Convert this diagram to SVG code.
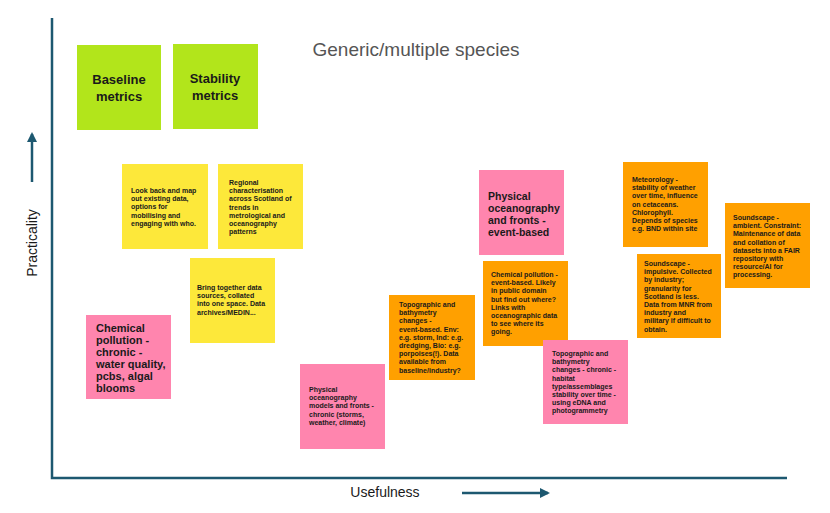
<svg xmlns="http://www.w3.org/2000/svg" width="830" height="513" viewBox="0 0 830 513">
<defs>
<style>
text{font-family:"Liberation Sans",Arial,sans-serif;fill:#1a1a1a}
.g{fill:#b2e51b}.y{fill:#fde83a}.p{fill:#ff85ae}.o{fill:#ffa000}
.s{font-size:7px;font-weight:bold}
.b{font-size:11px;font-weight:bold}
.h{font-size:13px;font-weight:bold}
.ax{stroke:#1d5870;stroke-width:2.5;fill:none}
</style>
<marker id="ah" viewBox="0 0 10 10" refX="8" refY="5" markerWidth="4" markerHeight="4" orient="auto"><path d="M0,0L10,5L0,10z" fill="#1d5870"/></marker>
</defs>
<rect width="830" height="513" fill="#fff"/>
<g id="axes">
<path class="ax" d="M52,18V478H787"/>
<path class="ax" d="M32,182V134" marker-end="url(#ah)"/>
<path class="ax" d="M462,493H548" marker-end="url(#ah)"/>
<text x="37" y="243" transform="rotate(-90 37 243)" text-anchor="middle" font-size="14">Practicality</text>
<text x="385" y="497" text-anchor="middle" font-size="14">Usefulness</text>
<text x="416" y="56" text-anchor="middle" font-size="19" style="fill:#555">Generic/multiple species</text>
</g>
<g id="baseline"><rect class="g" x="77" y="45" width="84" height="85"/><text class="h" x="119" y="84" text-anchor="middle">Baseline</text><text class="h" x="119" y="101" text-anchor="middle">metrics</text></g>
<g id="stability"><rect class="g" x="173" y="44" width="85" height="85"/><text class="h" x="215" y="83" text-anchor="middle">Stability</text><text class="h" x="215" y="100" text-anchor="middle">metrics</text></g>
<g id="lookback"><rect class="y" x="122" y="164" width="86" height="85"/><text class="s" x="131" y="193"><tspan x="131">Look back and map</tspan><tspan x="131" dy="8.2">out existing data,</tspan><tspan x="131" dy="8.2">options for</tspan><tspan x="131" dy="8.2">mobilising and</tspan><tspan x="131" dy="8.2">engaging with who.</tspan></text></g>
<g id="regional"><rect class="y" x="218" y="164" width="85" height="85"/><text class="s" x="229" y="185"><tspan x="229">Regional</tspan><tspan x="229" dy="8.2">characterisation</tspan><tspan x="229" dy="8.2">across Scotland of</tspan><tspan x="229" dy="8.2">trends in</tspan><tspan x="229" dy="8.2">metrological and</tspan><tspan x="229" dy="8.2">oceanography</tspan><tspan x="229" dy="8.2">patterns</tspan></text></g>
<g id="bring"><rect class="y" x="190" y="258" width="85" height="85"/><text class="s" x="197" y="290"><tspan x="197">Bring together data</tspan><tspan x="197" dy="8.2">sources, collated</tspan><tspan x="197" dy="8.2">into one space. Data</tspan><tspan x="197" dy="8.2">archives/MEDIN...</tspan></text></g>
<g id="chemchronic"><rect class="p" x="86" y="315" width="85" height="84"/><text class="b" x="96" y="332"><tspan x="96">Chemical</tspan><tspan x="96" dy="12">pollution -</tspan><tspan x="96" dy="12">chronic -</tspan><tspan x="96" dy="12">water quality,</tspan><tspan x="96" dy="12">pcbs, algal</tspan><tspan x="96" dy="12">blooms</tspan></text></g>
<g id="physmodels"><rect class="p" x="300" y="364" width="85" height="85"/><text class="s" x="309" y="392"><tspan x="309">Physical</tspan><tspan x="309" dy="8.2">oceanography</tspan><tspan x="309" dy="8.2">models and fronts -</tspan><tspan x="309" dy="8.2">chronic (storms,</tspan><tspan x="309" dy="8.2">weather, climate)</tspan></text></g>
<g id="topoevent"><rect class="o" x="389" y="295" width="86" height="85"/><text class="s" x="399" y="307"><tspan x="399">Topographic and</tspan><tspan x="399" dy="8.2">bathymetry</tspan><tspan x="399" dy="8.2">changes -</tspan><tspan x="399" dy="8.2">event-based. Env:</tspan><tspan x="399" dy="8.2">e.g. storm, Ind: e.g.</tspan><tspan x="399" dy="8.2">dredging, Bio: e.g.</tspan><tspan x="399" dy="8.2">porpoises(!). Data</tspan><tspan x="399" dy="8.2">available from</tspan><tspan x="399" dy="8.2">baseline/industry?</tspan></text></g>
<g id="chemevent"><rect class="o" x="483" y="261" width="85" height="85"/><text class="s" x="491" y="277"><tspan x="491">Chemical pollution -</tspan><tspan x="491" dy="8.2">event-based. Likely</tspan><tspan x="491" dy="8.2">in public domain</tspan><tspan x="491" dy="8.2">but find out where?</tspan><tspan x="491" dy="8.2">Links with</tspan><tspan x="491" dy="8.2">oceanographic data</tspan><tspan x="491" dy="8.2">to see where its</tspan><tspan x="491" dy="8.2">going.</tspan></text></g>
<g id="physevent"><rect class="p" x="479" y="170" width="85" height="85"/><text class="b" x="488" y="200" style="font-size:10.5px"><tspan x="488">Physical</tspan><tspan x="488" dy="12">oceanography</tspan><tspan x="488" dy="12">and fronts -</tspan><tspan x="488" dy="12">event-based</tspan></text></g>
<g id="topochronic"><rect class="p" x="543" y="340" width="85" height="84"/><text class="s" x="552" y="356"><tspan x="552">Topographic and</tspan><tspan x="552" dy="8.2">bathymetry</tspan><tspan x="552" dy="8.2">changes - chronic -</tspan><tspan x="552" dy="8.2">habitat</tspan><tspan x="552" dy="8.2">type/assemblages</tspan><tspan x="552" dy="8.2">stability over time -</tspan><tspan x="552" dy="8.2">using eDNA and</tspan><tspan x="552" dy="8.2">photogrammetry</tspan></text></g>
<g id="meteo"><rect class="o" x="623" y="162" width="85" height="85"/><text class="s" x="632" y="182"><tspan x="632">Meteorology -</tspan><tspan x="632" dy="8.2">stability of weather</tspan><tspan x="632" dy="8.2">over time, influence</tspan><tspan x="632" dy="8.2">on cetaceans.</tspan><tspan x="632" dy="8.2">Chlorophyll.</tspan><tspan x="632" dy="8.2">Depends of species</tspan><tspan x="632" dy="8.2">e.g. BND within site</tspan></text></g>
<g id="soundimp"><rect class="o" x="637" y="254" width="84" height="84"/><text class="s" x="644" y="266"><tspan x="644">Soundscape -</tspan><tspan x="644" dy="8.2">impulsive. Collected</tspan><tspan x="644" dy="8.2">by industry;</tspan><tspan x="644" dy="8.2">granularity for</tspan><tspan x="644" dy="8.2">Scotland is less.</tspan><tspan x="644" dy="8.2">Data from MNR from</tspan><tspan x="644" dy="8.2">industry and</tspan><tspan x="644" dy="8.2">military if difficult to</tspan><tspan x="644" dy="8.2">obtain.</tspan></text></g>
<g id="soundamb"><rect class="o" x="725" y="203" width="85" height="85"/><text class="s" x="733" y="220"><tspan x="733">Soundscape -</tspan><tspan x="733" dy="8.2">ambient. Constraint:</tspan><tspan x="733" dy="8.2">Maintenance of data</tspan><tspan x="733" dy="8.2">and collation of</tspan><tspan x="733" dy="8.2">datasets into a FAIR</tspan><tspan x="733" dy="8.2">repository with</tspan><tspan x="733" dy="8.2">resource/AI for</tspan><tspan x="733" dy="8.2">processing.</tspan></text></g>
</svg>
